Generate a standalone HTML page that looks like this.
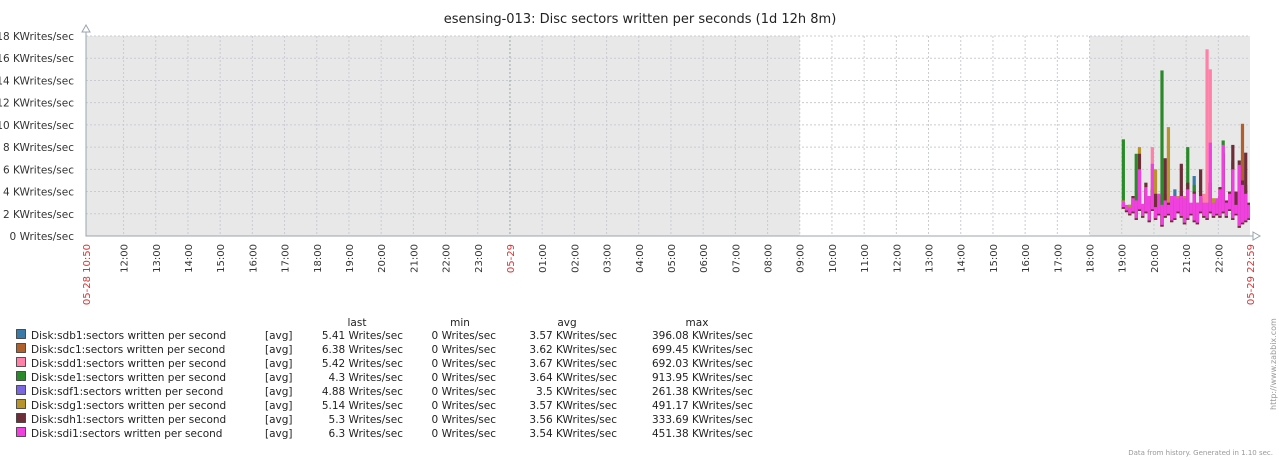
<!DOCTYPE html>
<html><head><meta charset="utf-8"><style>
body{margin:0;background:#fff;width:1279px;height:460px;overflow:hidden}
svg{display:block;font-family:"DejaVu Sans","Liberation Sans",sans-serif}
</style></head><body>
<svg id="chart" width="1279" height="460" xmlns="http://www.w3.org/2000/svg">
<text x="640" y="23" text-anchor="middle" font-size="13" fill="#222">esensing-013: Disc sectors written per seconds (1d 12h 8m)</text>
<g id="plot"></g>
<text transform="translate(1276,410) rotate(-90)" font-size="8" fill="#999">http://www.zabbix.com</text>
<text x="1273" y="455" text-anchor="end" font-size="7" fill="#999">Data from history. Generated in 1.10 sec.</text>
</svg>
<script>
const yTicks=[0,2,4,6,8,10,12,14,16,18];
const hourLabels=["12:00","13:00","14:00","15:00","16:00","17:00","18:00","19:00","20:00","21:00","22:00","23:00","05-29","01:00","02:00","03:00","04:00","05:00","06:00","07:00","08:00","09:00","10:00","11:00","12:00","13:00","14:00","15:00","16:00","17:00","18:00","19:00","20:00","21:00","22:00"];
const seriesNames=["sdb1","sdc1","sdd1","sde1","sdf1","sdg1","sdh1","sdi1"];
const seriesColors=["#3a7aa8","#b0602a","#ff80a8","#2a8a2a","#7b68e0","#b8952a","#6e2e38","#f040e0"];
const lastVals=["5.41 Writes/sec","6.38 Writes/sec","5.42 Writes/sec","4.3 Writes/sec","4.88 Writes/sec","5.14 Writes/sec","5.3 Writes/sec","6.3 Writes/sec"];
const minVals=["0 Writes/sec","0 Writes/sec","0 Writes/sec","0 Writes/sec","0 Writes/sec","0 Writes/sec","0 Writes/sec","0 Writes/sec"];
const avgVals=["3.57 KWrites/sec","3.62 KWrites/sec","3.67 KWrites/sec","3.64 KWrites/sec","3.5 KWrites/sec","3.57 KWrites/sec","3.56 KWrites/sec","3.54 KWrites/sec"];
const maxVals=["396.08 KWrites/sec","699.45 KWrites/sec","692.03 KWrites/sec","913.95 KWrites/sec","261.38 KWrites/sec","491.17 KWrites/sec","333.69 KWrites/sec","451.38 KWrites/sec"];
// minutes since 19:00 on 05-29, sampled every 6 min
const sampleMinutes=[0,6,12,18,24,30,36,42,48,54,60,66,72,78,84,90,96,102,108,114,120,126,132,138,144,150,156,162,168,174,180,186,192,198,204,210,216,222,228,234,240];
const sdb=[3.2,2.5,2.6,3.0,2.8,3.8,2.4,3.6,3.0,4.0,2.0,3.4,2.3,3.0,2.0,3.0,4.2,3.2,3.4,3.2,3.6,2.6,5.4,2.8,3.0,2.4,2.4,4.0,2.8,3.0,3.6,6.8,3.0,3.2,5.2,2.4,5.0,4.6,3.6,2.4,0.3];
const sdc=[3.0,2.6,2.8,3.3,2.8,4.0,2.6,4.2,3.2,4.4,2.2,3.4,2.2,3.2,2.2,3.4,3.0,3.4,3.6,3.4,3.8,2.8,3.8,2.8,3.2,2.6,2.6,4.6,2.8,3.2,3.2,6.2,2.8,3.4,6.6,2.6,6.4,10.1,4.2,2.4,0.2];
const sdd=[3.2,2.6,2.8,3.3,2.9,4.2,2.7,4.0,3.2,8.0,2.0,3.8,2.4,3.0,2.2,3.2,3.2,3.2,3.4,3.0,3.8,2.6,4.0,2.6,3.4,3.8,16.8,15.0,2.8,3.0,3.6,7.6,2.8,3.6,6.2,2.2,6.0,4.6,4.0,2.4,0.2];
const sde=[8.7,2.6,2.8,3.6,7.4,4.0,2.5,3.8,3.0,4.0,2.0,3.6,14.9,3.0,2.2,3.2,3.4,3.0,4.0,3.0,8.0,2.6,4.6,2.6,3.4,2.2,2.6,4.2,2.8,3.0,3.6,8.6,2.8,3.4,5.0,2.0,5.2,4.2,3.6,2.2,0.2];
const sdf=[3.2,2.4,2.6,3.0,2.8,3.4,2.4,3.6,3.2,4.0,2.0,3.4,2.2,3.0,2.0,3.0,3.2,3.0,3.4,3.0,3.4,2.6,3.8,2.6,3.2,2.2,2.2,3.8,2.8,3.0,3.2,6.2,2.8,3.2,4.8,2.0,4.6,4.2,4.6,2.2,0.2];
const sdg=[3.2,2.6,2.8,3.4,2.8,8.0,2.6,4.2,3.6,4.2,6.0,3.6,2.4,3.8,9.8,3.4,3.2,3.6,3.4,3.6,3.6,2.8,3.8,3.0,3.4,2.4,2.6,4.4,3.4,3.0,3.6,6.4,3.2,3.4,6.8,2.4,5.6,5.0,4.2,2.6,0.2];
const sdh=[2.8,2.4,2.5,3.6,2.7,7.4,2.6,4.8,3.4,4.2,3.8,3.6,2.6,7.0,3.0,3.6,3.2,3.0,6.5,3.2,4.8,2.8,4.0,2.8,6.0,2.4,2.4,4.8,2.8,3.0,4.4,7.4,3.2,4.0,8.2,4.0,6.8,5.0,7.5,3.0,0.2];
const sdi=[3.1,2.8,2.6,3.4,3.2,6.0,2.9,4.4,3.6,6.5,2.6,3.8,2.8,3.2,2.8,3.6,3.6,3.4,3.6,3.4,4.2,3.0,3.8,3.0,3.6,3.0,3.0,8.4,3.0,3.4,4.2,8.2,3.0,3.8,6.0,2.8,6.4,4.6,3.8,2.8,0.3];
// lower envelope (min within each interval)
const lowVals=[2.6,2.3,2.0,2.2,1.6,2.4,1.8,2.2,1.4,2.4,1.6,2.0,1.0,1.8,2.0,1.4,1.6,2.2,1.8,1.2,1.6,2.0,1.4,1.2,2.2,1.8,1.6,2.2,1.8,2.0,1.8,2.2,1.8,2.4,1.6,2.0,0.9,1.2,1.4,1.6,0];
const seriesData=[sdb,sdc,sdd,sde,sdf,sdg,sdh,sdi];

const NS="http://www.w3.org/2000/svg";
const X0=86,X1=1250,Y0=236,Y1=36,TOTAL=2169; // minutes from 05-28 10:50 to 05-29 22:59
const xMin=m=>X0+(m/TOTAL)*(X1-X0);
const y=v=>Y0-(v/18)*(Y0-Y1);
const g=document.getElementById('plot');
function mk(t,a,p){const e=document.createElementNS(NS,t);for(const k in a)e.setAttribute(k,a[k]);(p||g).appendChild(e);return e;}

const r1=mk('rect',{x:X0,y:Y1,width:xMin(1330)-X0,height:Y0-Y1,fill:'#e8e8e8'});


const r2=mk('rect',{x:xMin(1870),y:Y1,width:X1-xMin(1870),height:Y0-Y1,fill:'#e8e8e8'});



yTicks.forEach(v=>{
  if(v>0){const l=mk('line',{x1:X0,x2:X1,y1:y(v),y2:y(v),stroke:'#c8ccd0','stroke-dasharray':'2,2'});
  
  }
  const t=mk('text',{x:74,y:y(v)+4,'text-anchor':'end','font-size':'10.5',fill:'#333'});
  
  
  t.textContent=(v===0?'0 Writes/sec':v+' KWrites/sec');
});

hourLabels.forEach((lab,i)=>{
  const m=70+60*i, xx=xMin(m), mid=lab==='05-29';
  const l=mk('line',{x1:xx,x2:xx,y1:Y1,y2:Y0,stroke:mid?'#9aa8a8':'#c8ccd0','stroke-dasharray':'2,2'});
  
  
  const t=mk('text',{transform:`translate(${xx+4},${Y0+8}) rotate(-90)`,'text-anchor':'end','font-size':'10',fill:mid?'#e03030':'#333'});
  
  
  t.textContent=lab;
});
[['05-28 10:50',0],['05-29 22:59',TOTAL]].forEach(([lab,m])=>{
  const t=mk('text',{transform:`translate(${xMin(m)+4},${Y0+8}) rotate(-90)`,'text-anchor':'end','font-size':'10',fill:'#e03030'});
  
  
  t.textContent=lab;
});

const base=1440+19*60-(10*60+50);
const step=6;
seriesData.forEach((arr,s)=>{
  const grp=mk('g',{fill:seriesColors[s]});
  
  
  arr.forEach((v,i)=>{
    const xa=xMin(base+sampleMinutes[i]), xb=Math.min(xMin(base+sampleMinutes[i]+step),X1);
    if(xb<=xa) return;
    const lo=Math.min(lowVals[i]-(s===7?0:0.15),v);
    const r=mk('rect',{x:xa,y:y(v),width:Math.max(0.5,xb-xa),height:Math.max(0.5,y(Math.max(lo,0))-y(v))},grp);
    
    
  });
});

const ax=mk('path',{d:`M${X0} ${Y1-6} V${Y0} H${X1+4}`,stroke:'#98a4b0',fill:'none'});


const a1=mk('path',{d:`M${X0-4} ${Y1-4} L${X0} ${Y1-11} L${X0+4} ${Y1-4}Z`,stroke:'#98a4b0',fill:'#fff'});


const a2=mk('path',{d:`M${X1+3} ${Y0-4} L${X1+10} ${Y0} L${X1+3} ${Y0+4}Z`,stroke:'#98a4b0',fill:'#fff'});



const hdr=[['last',357],['min',460],['avg',567],['max',697]];
hdr.forEach(([h,x])=>{const t=mk('text',{x:x,y:326,'text-anchor':'middle','font-size':'10.5',fill:'#222'});


t.textContent=h;});
seriesNames.forEach((n,i)=>{
  const yy=339+14*i;
  const row=mk('g',{});
  
  
  const sw=mk('rect',{x:16.5,y:yy-9.5,width:9,height:9,fill:seriesColors[i],stroke:'#333','stroke-width':'0.8'},row);
  
  
  const cells=[['Disk:'+n+':sectors written per second',31,'start'],['[avg]',265,'start'],[lastVals[i],403,'end'],[minVals[i],496,'end'],[avgVals[i],617,'end'],[maxVals[i],753,'end']];
  cells.forEach(([txt,x,anc])=>{const t=mk('text',{x:x,y:yy,'text-anchor':anc,'font-size':'10.5',fill:'#222'},row);
  
  
  t.textContent=txt;});
});
</script>
</body></html>
